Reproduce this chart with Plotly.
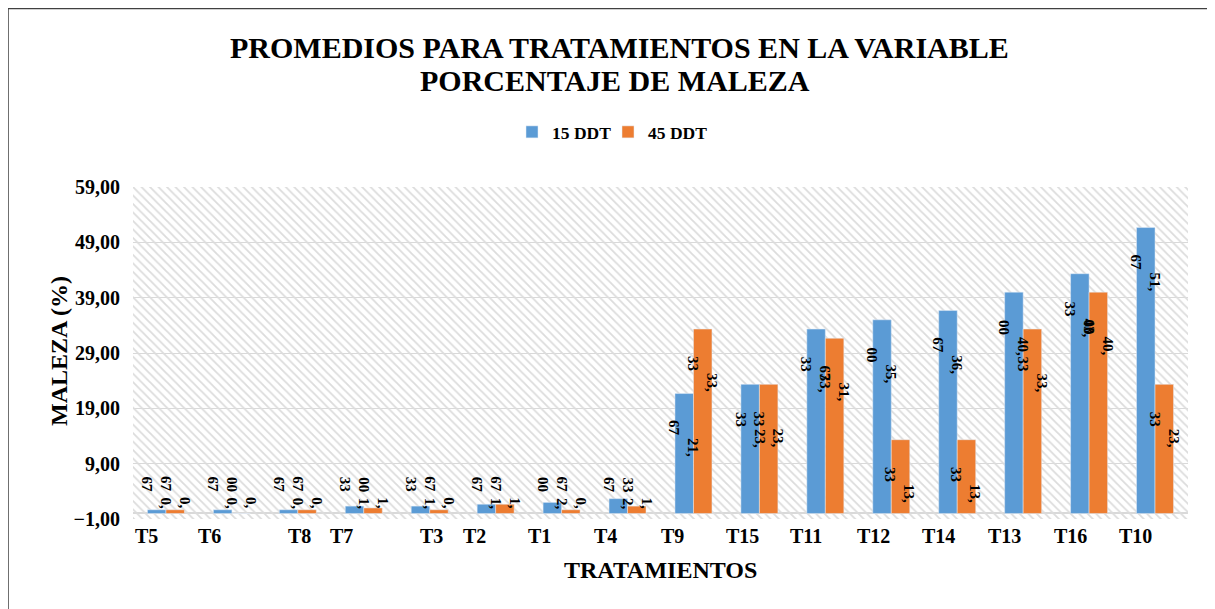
import plotly.graph_objects as go

# data
tratamientos = ["T5", "T6", "T8", "T7", "T3", "T2", "T1", "T4",
                "T9", "T15", "T11", "T12", "T14", "T13", "T16", "T10"]
ddt15 = [0.67, 0.67, 0.67, 1.33, 1.33, 1.67, 2.00, 2.67,
         21.67, 23.33, 33.33, 35.00, 36.67, 40.00, 43.33, 51.67]
ddt45 = [0.67, 0.00, 0.67, 1.00, 0.67, 1.67, 0.67, 1.33,
         33.33, 23.33, 31.67, 13.33, 13.33, 33.33, 40.00, 23.33]
# tick labels in the original sit a bit off-centre
label_shift = [-19, -22, 2, -22, 2, -21, -22, -22,
               -21, -17, -19, -18, -19, -19, -19, -20]

BLUE = "#5B9BD5"
ORANGE = "#ED7D31"
GRID = "#d9d9d9"
FONT = "Liberation Serif"

OFF = 8  # default body margin of the html page
W, H = 1215 - OFF, 609 - OFF
ML, MR, MT, MB = 133 - OFF, 27, 187 - OFF, 90
plot_w = W - ML - MR
plot_h = H - MT - MB
y_min, y_max = -1, 59
ppu = plot_h / (y_max - y_min)  # pixels per unit


def px(x):  # page pixel -> paper x
    return (x - OFF - ML) / plot_w


def py(y):  # page pixel -> paper y
    return (OFF + MT + plot_h - y) / plot_h


fig = go.Figure()

# hatched plot-area background (drawn on the base subplot, below the bars)
fig.add_trace(go.Bar(
    x=[0.5], y=[y_max - y_min], base=[y_min], width=[1],
    xaxis="x", yaxis="y",
    marker=dict(color="#dcdcdc", line_width=0,
                pattern=dict(shape="\\", fillmode="replace", size=6, solidity=0.3)),
    showlegend=False, hoverinfo="skip",
))

fig.add_trace(go.Bar(x=tratamientos, y=ddt15, name="15 DDT", marker_color=BLUE,
                     xaxis="x2", yaxis="y", legend="legend"))
fig.add_trace(go.Bar(x=tratamientos, y=ddt45, name="45 DDT", marker_color=ORANGE,
                     xaxis="x2", yaxis="y", legend="legend2"))

annotations = []
bar_w = 18.5
lab_font = dict(family=FONT, size=15, color="black", weight="bold")
for k, serie in enumerate([ddt15, ddt45]):
    right_edge = 0 if k == 0 else bar_w
    for cat, v in zip(tratamientos, serie):
        entero, dec = f"{v:.2f}".split(".")
        y_int = max(v - 54 / ppu, 10 / ppu)
        y_dec = y_int + 19 / ppu
        annotations.append(dict(x=cat, y=y_int, xref="x2", yref="y", text=entero + ",",
                                showarrow=False, textangle=90, xshift=right_edge,
                                xanchor="center", yanchor="middle", font=lab_font))
        annotations.append(dict(x=cat, y=y_dec, xref="x2", yref="y", text=dec,
                                showarrow=False, textangle=90, xshift=right_edge - 19,
                                xanchor="center", yanchor="middle", font=lab_font))

tick_font = dict(family=FONT, size=20, color="black", weight="bold")
for cat, s in zip(tratamientos, label_shift):
    annotations.append(dict(x=cat, y=py(536), xref="x2", yref="paper", text=cat,
                            showarrow=False, xanchor="center", yanchor="middle",
                            xshift=s, font=tick_font))

axis_font = dict(family=FONT, size=24, color="black", weight="bold")
title_font = dict(family=FONT, size=30, color="black", weight="bold")
annotations += [
    dict(x=px(660), y=py(570), xref="paper", yref="paper", text="TRATAMIENTOS",
         showarrow=False, xanchor="center", yanchor="middle", font=axis_font),
    dict(x=px(59), y=py(351), xref="paper", yref="paper", text="MALEZA (%)",
         showarrow=False, textangle=-90, xanchor="center", yanchor="middle", font=axis_font),
    dict(x=px(619), y=py(47), xref="paper", yref="paper",
         text="PROMEDIOS PARA TRATAMIENTOS EN LA VARIABLE",
         showarrow=False, xanchor="center", yanchor="middle", font=title_font),
    dict(x=px(615), y=py(80), xref="paper", yref="paper", text="PORCENTAJE DE MALEZA",
         showarrow=False, xanchor="center", yanchor="middle", font=title_font),
]

legend_font = dict(family=FONT, size=17.5, color="black", weight="bold")

fig.update_layout(
    width=W, height=H,
    margin=dict(l=ML, r=MR, t=MT, b=MB),
    paper_bgcolor="white", plot_bgcolor="white",
    barmode="group", bargap=1 - 2 * bar_w / (plot_w / len(tratamientos)), bargroupgap=0,
    separators=",.",
    font=dict(family=FONT, color="black"),
    legend=dict(orientation="h", x=px(512), xanchor="left", y=py(132), yanchor="middle",
                itemwidth=30, font=legend_font, bgcolor="rgba(0,0,0,0)"),
    legend2=dict(orientation="h", x=px(608), xanchor="left", y=py(132), yanchor="middle",
                 itemwidth=30, font=legend_font, bgcolor="rgba(0,0,0,0)"),
    xaxis=dict(range=[0, 1], visible=False, fixedrange=True),
    xaxis2=dict(overlaying="x", showticklabels=False, showgrid=False, showline=False,
                ticks=""),
    yaxis=dict(range=[y_min, y_max], tick0=y_min, dtick=10, tickformat=".2f",
               showgrid=True, gridcolor=GRID, gridwidth=1,
               zeroline=True, zerolinecolor=GRID, zerolinewidth=2,
               tickfont=tick_font, ticks="", ticklabelstandoff=12),
    annotations=annotations,
    shapes=[dict(type="rect", xref="paper", yref="paper",
                 x0=px(8), x1=px(1240), y0=py(640), y1=py(8.5),
                 line=dict(color="#404040", width=1.5), fillcolor="rgba(0,0,0,0)")],
)

fig.write_html("out.html")
